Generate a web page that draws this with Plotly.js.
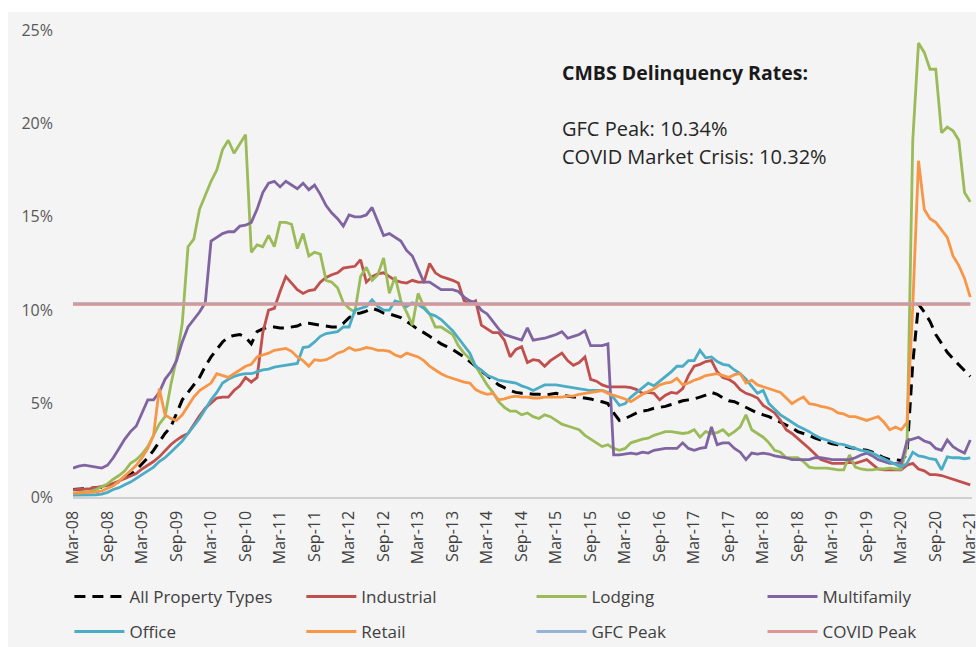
<!DOCTYPE html>
<html><head><meta charset="utf-8">
<script src="https://cdn.plot.ly/plotly-3.0.1.min.js"></script>
<style>
html,body{margin:0;padding:0;background:#ffffff;width:976px;height:647px;overflow:hidden}
#chart{position:absolute;left:8px;top:12px;width:968px;height:635px}
</style></head>
<body><div id="chart"></div>
<script>
// Monthly CMBS delinquency rates (%), Mar-08 .. Mar-21 (157 months)
const startYear = 2008, startMonth = 2; // March (0-based)
const monthNames = ['Jan','Feb','Mar','Apr','May','Jun','Jul','Aug','Sep','Oct','Nov','Dec'];

const allPropertyTypes = [
 0.40,0.42,0.45,0.47,0.50,0.52,0.58,0.68,0.82,1.00,1.20,1.45,
 1.75,2.10,2.50,2.95,3.40,3.75,4.50,5.20,5.60,6.00,6.40,7.00,
 7.50,7.90,8.30,8.55,8.65,8.70,8.55,8.20,8.85,9.00,9.10,9.10,
 9.05,9.05,9.10,9.15,9.30,9.30,9.25,9.20,9.15,9.10,9.10,9.30,
 9.60,9.80,9.85,9.95,10.10,10.00,9.85,9.80,9.70,9.60,9.40,9.20,
 8.95,8.80,8.60,8.40,8.20,8.05,7.90,7.70,7.50,7.25,7.00,6.75,
 6.45,6.25,6.00,5.85,5.70,5.60,5.55,5.55,5.50,5.50,5.45,5.50,
 5.55,5.45,5.40,5.35,5.35,5.30,5.25,5.15,5.10,5.00,4.50,4.10,
 4.20,4.35,4.50,4.60,4.65,4.75,4.80,4.85,4.95,5.05,5.15,5.20,
 5.25,5.35,5.45,5.60,5.50,5.30,5.15,5.10,4.95,4.80,4.65,4.50,
 4.40,4.30,4.15,4.00,3.85,3.70,3.50,3.40,3.30,3.15,3.05,2.95,
 2.85,2.80,2.75,2.65,2.60,2.55,2.50,2.40,2.25,2.10,2.00,2.00,
 1.95,2.30,7.15,10.32,9.90,9.40,8.70,8.20,7.75,7.40,7.10,6.80,6.45];

const industrial = [
 0.40,0.40,0.42,0.45,0.50,0.55,0.62,0.72,0.85,1.00,1.15,1.25,
 1.50,1.70,1.90,2.15,2.50,2.80,3.05,3.25,3.40,3.90,4.35,4.75,
 5.00,5.30,5.35,5.35,5.70,5.95,6.40,6.15,6.40,8.80,10.00,10.10,
 11.00,11.80,11.45,11.10,10.90,11.05,11.10,11.50,11.75,11.90,12.00,12.25,
 12.30,12.35,12.70,11.50,11.80,11.95,12.00,11.80,11.60,11.50,11.45,11.60,
 11.50,11.50,12.50,12.00,11.80,11.70,11.60,11.45,10.50,10.35,10.50,9.20,
 9.00,8.80,8.80,8.40,7.50,7.90,8.05,7.20,7.35,7.30,7.00,7.30,
 7.50,7.70,7.30,7.05,7.20,7.50,6.30,6.20,6.00,5.90,5.90,5.90,
 5.90,5.85,5.75,5.55,5.60,5.55,5.20,5.45,5.60,5.55,5.80,6.50,
 7.00,7.10,7.25,7.30,6.70,6.40,6.30,6.10,5.75,5.55,5.45,5.30,
 4.90,4.70,4.50,4.10,3.60,3.40,3.15,2.90,2.60,2.30,2.00,1.90,
 1.80,1.80,1.80,1.85,1.80,1.90,2.00,1.75,1.50,1.45,1.45,1.45,
 1.45,1.70,1.80,1.50,1.40,1.20,1.20,1.15,1.05,0.95,0.85,0.75,0.65];

const lodging = [
 0.20,0.22,0.25,0.30,0.40,0.55,0.70,0.95,1.15,1.40,1.80,2.00,
 2.30,2.70,3.30,3.90,4.30,6.00,7.40,9.30,13.40,13.80,15.40,16.20,
 16.90,17.50,18.60,19.10,18.40,18.90,19.40,13.10,13.50,13.40,14.00,13.40,
 14.70,14.70,14.60,13.30,14.10,12.90,13.10,13.00,11.60,11.50,11.20,10.40,
 10.10,9.90,11.80,12.30,11.60,11.90,12.80,10.90,11.80,10.50,9.90,9.20,
 10.90,10.20,9.80,9.10,9.10,8.90,8.70,8.10,7.70,7.40,7.00,6.50,
 6.00,5.60,5.10,4.80,4.60,4.60,4.40,4.50,4.30,4.20,4.40,4.30,
 4.10,3.90,3.80,3.70,3.60,3.30,3.10,2.90,2.70,2.80,2.60,2.50,
 2.60,2.90,3.00,3.10,3.15,3.30,3.40,3.50,3.50,3.45,3.40,3.45,
 3.60,3.20,3.50,3.40,3.45,3.60,3.30,3.50,3.75,4.40,3.60,3.40,
 3.20,2.90,2.50,2.40,2.10,2.10,2.10,1.90,1.60,1.55,1.55,1.55,
 1.50,1.45,1.45,2.25,1.60,1.50,1.45,1.45,1.50,1.50,1.55,1.50,
 1.50,2.70,19.10,24.30,23.80,22.90,22.90,19.50,19.80,19.60,19.10,16.30,15.80];

const multifamily = [
 1.55,1.65,1.70,1.65,1.60,1.55,1.70,2.10,2.60,3.10,3.50,3.80,
 4.50,5.20,5.20,5.60,6.30,6.70,7.30,8.30,9.10,9.50,9.90,10.40,
 13.70,13.90,14.10,14.20,14.20,14.50,14.55,14.70,15.40,16.30,16.80,16.90,
 16.60,16.90,16.70,16.50,16.80,16.45,16.70,16.20,15.60,15.20,14.90,14.50,
 15.10,15.00,15.00,15.10,15.50,14.80,14.00,14.10,13.90,13.70,13.20,12.90,
 12.20,11.50,11.50,11.30,11.10,11.10,11.10,11.00,10.70,10.50,10.40,10.00,
 9.80,9.40,9.00,8.70,8.60,8.50,8.40,9.05,8.40,8.45,8.50,8.60,
 8.70,8.85,8.50,8.60,8.70,8.90,8.10,8.10,8.10,8.20,2.25,2.25,
 2.30,2.35,2.30,2.40,2.35,2.50,2.55,2.60,2.60,2.60,2.90,2.60,
 2.50,2.60,2.65,3.75,2.80,2.90,2.90,2.60,2.40,2.00,2.35,2.30,
 2.35,2.30,2.20,2.15,2.10,2.00,2.00,2.00,2.00,2.10,2.10,2.05,
 2.00,2.00,2.00,2.00,2.10,2.25,2.35,2.20,2.00,1.90,1.80,1.80,
 1.80,3.00,3.10,3.20,3.00,2.90,2.60,2.50,3.05,2.70,2.50,2.35,3.05];

const office = [
 0.10,0.10,0.12,0.12,0.12,0.15,0.25,0.40,0.50,0.65,0.80,1.00,
 1.20,1.40,1.60,1.90,2.10,2.40,2.70,3.00,3.40,3.80,4.20,4.70,
 5.20,5.60,6.10,6.30,6.45,6.55,6.60,6.60,6.70,6.80,6.85,6.95,
 7.00,7.05,7.10,7.15,8.00,8.05,8.30,8.60,8.75,8.80,8.85,9.10,
 9.10,10.00,10.10,10.20,10.55,10.20,10.00,10.00,10.50,10.40,10.20,10.40,
 10.30,10.10,9.80,9.70,9.50,9.20,8.90,8.50,8.10,7.70,7.00,6.80,
 6.50,6.40,6.25,6.20,6.15,6.10,5.95,5.85,5.70,5.85,6.00,6.00,
 6.00,5.95,5.90,5.85,5.80,5.75,5.70,5.70,5.70,5.60,5.30,4.90,
 5.00,5.35,5.60,5.90,6.10,5.95,6.20,6.40,6.70,7.00,7.00,7.30,
 7.30,7.85,7.45,7.50,7.25,7.10,7.05,6.80,6.60,6.30,5.90,5.55,
 5.70,5.00,4.70,4.40,4.20,4.00,3.80,3.65,3.50,3.30,3.15,3.05,
 2.95,2.85,2.80,2.70,2.60,2.50,2.45,2.35,2.20,2.05,1.90,1.75,
 1.60,1.80,2.40,2.20,2.15,2.05,2.00,1.45,2.15,2.10,2.10,2.05,2.10];

const retail = [
 0.20,0.22,0.22,0.25,0.27,0.32,0.45,0.60,0.85,1.10,1.40,1.70,
 2.10,2.60,3.30,5.80,4.40,4.20,4.10,4.40,4.90,5.35,5.70,5.90,
 6.10,6.60,6.50,6.40,6.60,6.80,7.00,7.10,7.50,7.60,7.70,7.85,
 7.90,7.95,7.80,7.50,7.30,7.00,7.35,7.30,7.35,7.50,7.70,7.80,
 8.00,7.85,7.90,8.00,7.95,7.85,7.85,7.80,7.60,7.50,7.70,7.60,
 7.50,7.30,7.00,6.80,6.60,6.45,6.35,6.25,6.15,6.10,5.75,5.60,
 5.50,5.55,5.20,5.25,5.35,5.40,5.35,5.35,5.30,5.30,5.35,5.35,
 5.35,5.35,5.40,5.40,5.50,5.55,5.60,5.65,5.70,5.55,5.45,5.35,
 5.25,5.10,5.30,5.50,5.65,5.80,6.00,6.10,6.15,6.35,6.00,6.10,
 6.25,6.35,6.50,6.55,6.60,6.50,6.40,6.55,6.60,6.10,6.25,6.00,
 5.90,5.80,5.70,5.60,5.30,5.00,5.20,5.35,5.00,4.95,4.85,4.80,
 4.70,4.50,4.45,4.30,4.30,4.20,4.10,4.20,4.30,4.00,3.60,3.75,
 3.60,4.00,10.20,18.00,15.40,14.90,14.70,14.30,13.90,12.90,12.40,11.70,10.70];

const gfcPeak = 10.34;
const covidPeak = 10.32;

const tickLabels = ['Mar-08','Sep-08','Mar-09','Sep-09','Mar-10','Sep-10','Mar-11','Sep-11',
 'Mar-12','Sep-12','Mar-13','Sep-13','Mar-14','Sep-14','Mar-15','Sep-15','Mar-16','Sep-16',
 'Mar-17','Sep-17','Mar-18','Sep-18','Mar-19','Sep-19','Mar-20','Sep-20','Mar-21'];

// category positions (month index) and their labels
const monthIdx = allPropertyTypes.map((_, i) => i);
const monthLabels = monthIdx.map(i => {
  const m = (startMonth + i) % 12, y = startYear + Math.floor((startMonth + i) / 12);
  return monthNames[m] + '-' + String(y).slice(2);
});
const tickPos = tickLabels.map(l => monthLabels.indexOf(l));

const FONT = 'Open Sans, Noto Sans, sans-serif';
const legendIds = ['legend','legend2','legend3','legend4','legend5','legend6','legend7','legend8'];
function line(k, name, y, color, width, dash) {
  const ln = {color: color, width: width || 2.8};
  if (dash) ln.dash = dash;
  return {type: 'scatter', mode: 'lines', name: name, x: monthIdx, y: y,
          line: ln, hoverinfo: 'skip', legend: legendIds[k]};
}

const traces = [
  line(0, 'All Property Types', allPropertyTypes, '#000000', 3, '11px,7px'),
  line(1, 'Industrial', industrial, '#c0504d'),
  line(2, 'Lodging', lodging, '#9bbb59'),
  line(3, 'Multifamily', multifamily, '#8064a2'),
  line(4, 'Office', office, '#4bacc6'),
  line(5, 'Retail', retail, '#f79646'),
  line(6, 'GFC Peak', monthIdx.map(() => gfcPeak), '#95b3d7', 3),
  line(7, 'COVID Peak', monthIdx.map(() => covidPeak), '#d99694', 3)
];

// legend grid: 4 columns x 2 rows (paper coordinates)
const legendCols = [-0.004, 0.254, 0.510, 0.767];
const legendRows = [-0.214, -0.289];

const layout = {
  width: 968, height: 635,
  margin: {l: 65, r: 4, t: 18, b: 150, autoexpand: false},
  paper_bgcolor: '#f4f4f4', plot_bgcolor: '#f4f4f4',
  showlegend: true,
  xaxis: {
    range: [0, 156.3], tickmode: 'array', tickvals: tickPos, ticktext: tickLabels,
    tickangle: -90, ticks: '', ticklabelstandoff: 6, ticklabeloverflow: 'allow',
    showgrid: false, zeroline: false, showline: true, linecolor: '#cfcfcf', linewidth: 1.5,
    tickfont: {family: FONT, size: 16, color: '#404040'}, fixedrange: true
  },
  yaxis: {
    range: [0, 25], dtick: 5, ticksuffix: '%', ticks: '', ticklabelstandoff: 19,
    showgrid: false, zeroline: false, showline: false,
    tickfont: {family: FONT, size: 16, color: '#595959'}, fixedrange: true
  },
  annotations: [
    {xref: 'x', yref: 'y', x: 84.7, y: 22.75, xanchor: 'left', yanchor: 'middle', showarrow: false,
     text: '<b>CMBS Delinquency Rates:</b>', font: {family: FONT, size: 19.5, color: '#1a1a1a'}},
    {xref: 'x', yref: 'y', x: 84.7, y: 19.75, xanchor: 'left', yanchor: 'middle', showarrow: false,
     text: 'GFC Peak: 10.34%', font: {family: FONT, size: 20, color: '#262626'}},
    {xref: 'x', yref: 'y', x: 84.7, y: 18.25, xanchor: 'left', yanchor: 'middle', showarrow: false,
     text: 'COVID Market Crisis: 10.32%', font: {family: FONT, size: 20, color: '#262626'}}
  ]
};
legendIds.forEach((id, k) => {
  layout[id] = {
    orientation: 'h', xanchor: 'left', yanchor: 'middle',
    x: legendCols[k % 4], y: legendRows[Math.floor(k / 4)],
    itemwidth: 50, font: {family: FONT, size: 17, color: '#404040'},
    bgcolor: 'rgba(0,0,0,0)', itemclick: false, itemdoubleclick: false
  };
});

Plotly.newPlot('chart', traces, layout, {staticPlot: true, displayModeBar: false});
</script></body></html>
